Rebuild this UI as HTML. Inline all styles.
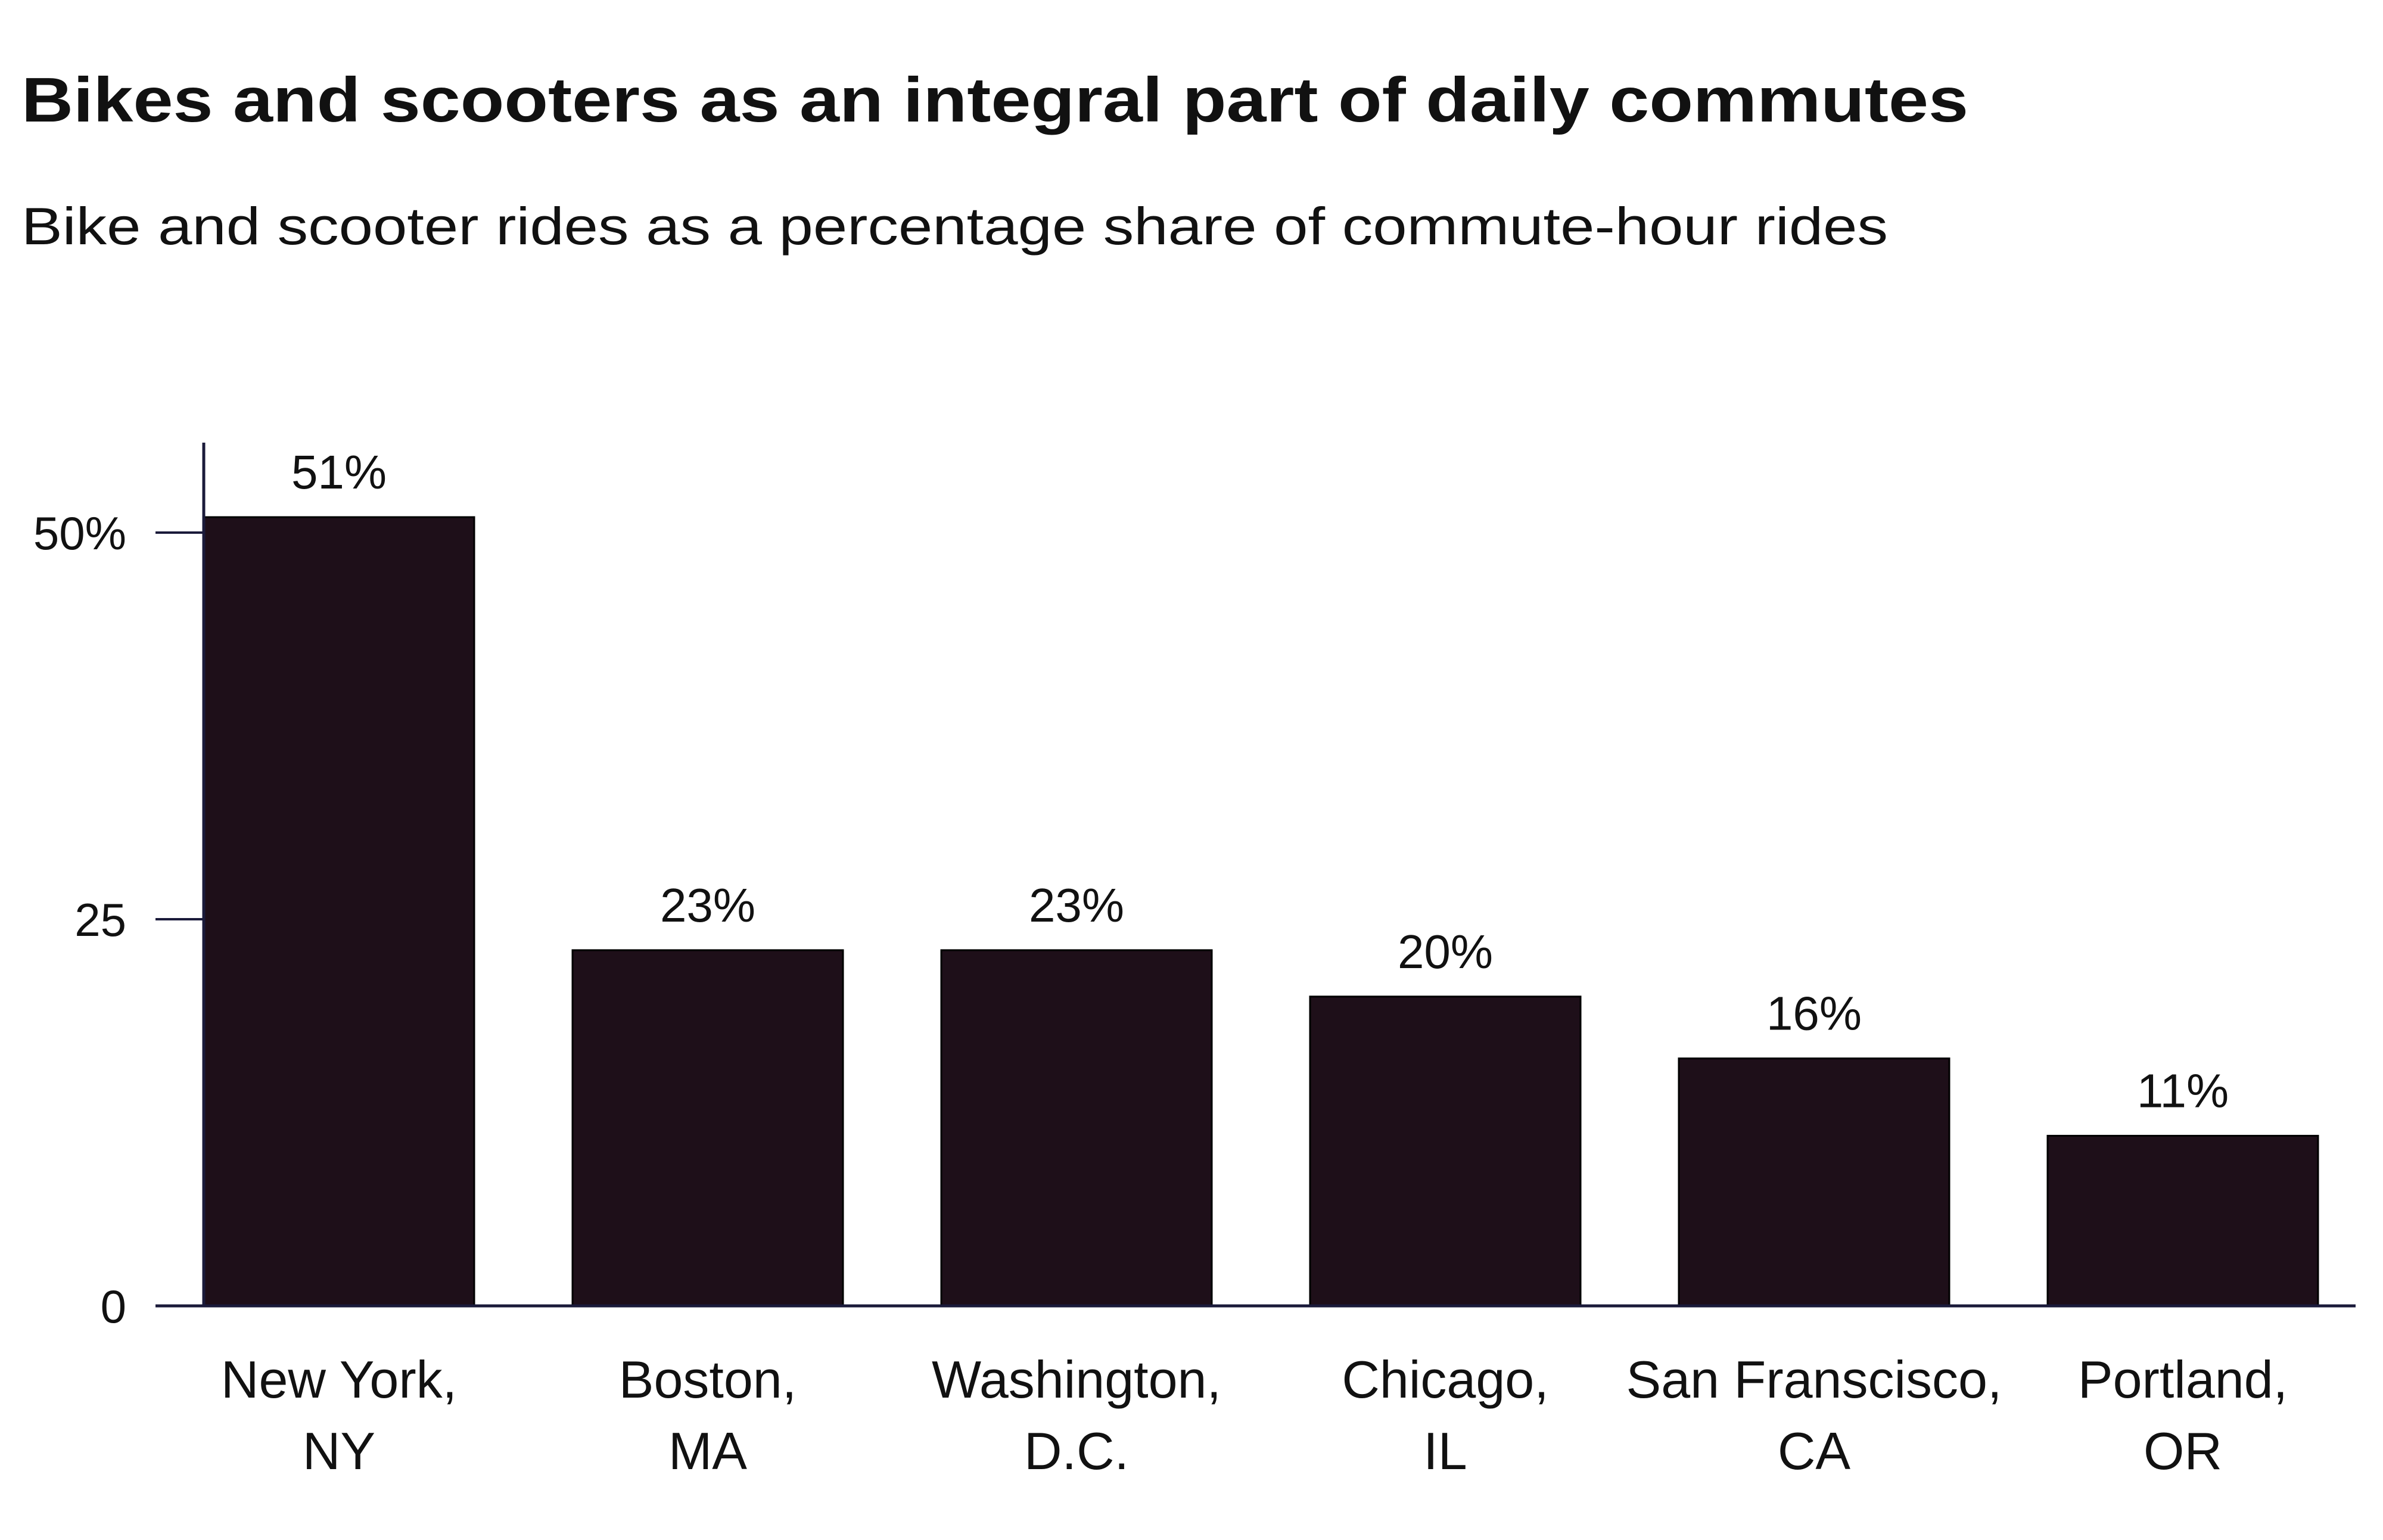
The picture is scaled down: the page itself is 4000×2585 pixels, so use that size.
<!DOCTYPE html>
<html><head><meta charset="utf-8"><style>
html,body{margin:0;padding:0;background:#fff;}
svg{display:block;font-family:"Liberation Sans",sans-serif;}
</style></head><body>
<svg id="chart" width="4000" height="2585" viewBox="0 0 4000 2585" xmlns="http://www.w3.org/2000/svg">
<text x="36" y="204" font-size="106" font-weight="bold" fill="#111" textLength="3268" lengthAdjust="spacingAndGlyphs">Bikes and scooters as an integral part of daily commutes</text>
<text x="36" y="410" font-size="88" fill="#111" textLength="3133" lengthAdjust="spacingAndGlyphs">Bike and scooter rides as a percentage share of commute-hour rides</text>
<g id="plot"></g>
</svg>
<script>
const categoriesLine1 = ["New York,", "Boston,", "Washington,", "Chicago,", "San Franscisco,", "Portland,"];
const categoriesLine2 = ["NY", "MA", "D.C.", "IL", "CA", "OR"];
const values = [51, 23, 23, 20, 16, 11];
const valueLabels = ["51%", "23%", "23%", "20%", "16%", "11%"];
const tickValues = [0, 25, 50];
const tickLabels = ["0", "25", "50%"];

const NS = "http://www.w3.org/2000/svg";
const g = document.getElementById("plot");
const x0 = 342, step = 619, barW = 454, axisEnd = 3954;
const yZero = 2192, pxPerUnit = 649 / 25;
function yScale(v){ return yZero - v * pxPerUnit; }
function xScale(i){ return x0 + i * step; }
function mk(tag, attrs){ const e = document.createElementNS(NS, tag); for (const k in attrs) e.setAttribute(k, attrs[k]); return e; }

// bars
values.forEach((v, i) => {
  const r = mk("rect", {x: xScale(i), y: yScale(v), width: barW, height: yZero - yScale(v), fill: "#1e0f19", stroke: "#000", "stroke-width": 3});
  
  
  g.appendChild(r);
  const t = mk("text", {x: xScale(i) + barW / 2, y: yScale(v) - 48, "font-size": 80, "text-anchor": "middle", fill: "#111"});
  t.textContent = valueLabels[i];
  
  
  g.appendChild(t);
  const c1 = mk("text", {x: xScale(i) + barW / 2, y: 2346, "font-size": 88, "text-anchor": "middle", fill: "#111"});
  c1.textContent = categoriesLine1[i];
  
  
  g.appendChild(c1);
  const c2 = mk("text", {x: xScale(i) + barW / 2, y: 2466, "font-size": 88, "text-anchor": "middle", fill: "#111"});
  c2.textContent = categoriesLine2[i];
  
  
  g.appendChild(c2);
});

// y axis
const ya = mk("line", {x1: x0, y1: 743, x2: x0, y2: yZero, stroke: "#1a1a3a", "stroke-width": 5});


g.appendChild(ya);
const xa = mk("line", {x1: 261, y1: yZero, x2: axisEnd, y2: yZero, stroke: "#1a1a3a", "stroke-width": 5});


g.appendChild(xa);
tickValues.forEach((v, i) => {
  const l = mk("line", {x1: 261, y1: yScale(v), x2: x0, y2: yScale(v), stroke: "#1a1a3a", "stroke-width": 4});
  
  
  g.appendChild(l);
  const t = mk("text", {x: 212, y: yScale(v) + 28, "font-size": 78, "text-anchor": "end", fill: "#111"});
  t.textContent = tickLabels[i];
  
  
  g.appendChild(t);
});
</script>
</body></html>
